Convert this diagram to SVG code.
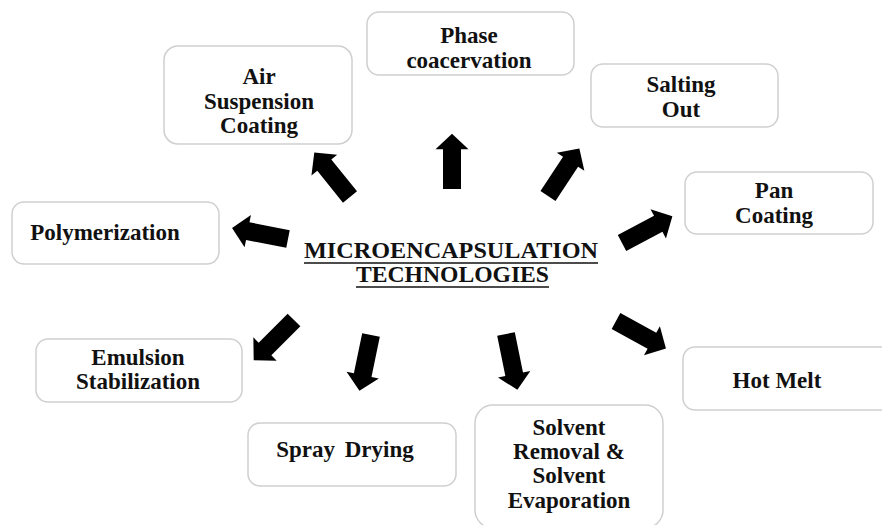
<svg xmlns="http://www.w3.org/2000/svg" xmlns:xlink="http://www.w3.org/1999/xlink" width="882" height="525" viewBox="0 0 882 525">
<style>
.box{fill:#fff;stroke:#cfcfcf;stroke-width:1.5}
.t{font-family:"Liberation Serif","Times New Roman",serif;font-weight:bold;font-size:23px;fill:#111;text-anchor:middle}
.c{font-family:"Liberation Serif","Times New Roman",serif;font-weight:bold;font-size:23px;fill:#111}
.arr{fill:#000}
</style>
<defs>
<path id="ar" d="M0,-9 L41,-9 L41,-16.5 L57,0 L41,16.5 L41,9 L0,9 Z"/>
</defs>
<rect width="882" height="525" fill="#fff"/>
<g id="center">
<text class="c" x="304" y="258" textLength="294" lengthAdjust="spacingAndGlyphs">MICROENCAPSULATION</text>
<text class="c" x="356" y="282" textLength="193" lengthAdjust="spacingAndGlyphs">TECHNOLOGIES</text>
<line x1="304" y1="263" x2="598" y2="263" stroke="#111" stroke-width="1.6"/>
<line x1="356" y1="287" x2="549" y2="287" stroke="#111" stroke-width="1.6"/>
</g>
<g id="air">
<rect class="box" x="164" y="46" width="188" height="98" rx="14"/>
<text class="t" x="259" y="84">Air</text>
<text class="t" x="259" y="109">Suspension</text>
<text class="t" x="259" y="133">Coating</text>
</g>
<g id="phase">
<rect class="box" x="367" y="12" width="207" height="63" rx="12"/>
<text class="t" x="469" y="43">Phase</text>
<text class="t" x="469" y="68">coacervation</text>
</g>
<g id="salting">
<rect class="box" x="591" y="64" width="187" height="63" rx="12"/>
<text class="t" x="681" y="92">Salting</text>
<text class="t" x="681" y="117">Out</text>
</g>
<g id="polymerization">
<rect class="box" x="12" y="202" width="207" height="62" rx="12"/>
<text class="t" x="105" y="240">Polymerization</text>
</g>
<g id="pan">
<rect class="box" x="685" y="172" width="188" height="62" rx="12"/>
<text class="t" x="774" y="198">Pan</text>
<text class="t" x="774" y="223">Coating</text>
</g>
<g id="emulsion">
<rect class="box" x="36" y="339" width="206" height="63" rx="12"/>
<text class="t" x="138" y="365">Emulsion</text>
<text class="t" x="138" y="389">Stabilization</text>
</g>
<g id="hotmelt">
<rect class="box" x="683" y="347" width="215" height="63" rx="12"/>
<text class="t" x="777" y="388">Hot Melt</text>
</g>
<g id="spray">
<rect class="box" x="248" y="423" width="208" height="63" rx="12"/>
<text class="t" x="345" y="457" word-spacing="4">Spray Drying</text>
</g>
<g id="solvent">
<rect class="box" x="475" y="405" width="188" height="123" rx="18"/>
<text class="t" x="569" y="435">Solvent</text>
<text class="t" x="569" y="459">Removal &amp;</text>
<text class="t" x="569" y="483">Solvent</text>
<text class="t" x="569" y="508">Evaporation</text>
</g>
<g id="connectors" class="arr">
<use xlink:href="#ar" href="#ar" transform="translate(350,197) rotate(-128.8)"/>
<use xlink:href="#ar" href="#ar" transform="translate(452,189) rotate(-90) scale(0.97,1)"/>
<use xlink:href="#ar" href="#ar" transform="translate(548,196) rotate(-56.6)"/>
<use xlink:href="#ar" href="#ar" transform="translate(288,239) rotate(-168.9)"/>
<use xlink:href="#ar" href="#ar" transform="translate(294,320) rotate(135)"/>
<use xlink:href="#ar" href="#ar" transform="translate(371,335) rotate(101.7)"/>
<use xlink:href="#ar" href="#ar" transform="translate(506,334) rotate(78.5)"/>
<use xlink:href="#ar" href="#ar" transform="translate(616,321) rotate(28.8)"/>
<use xlink:href="#ar" href="#ar" transform="translate(622,243) rotate(-27.9)"/>
</g>
</svg>
